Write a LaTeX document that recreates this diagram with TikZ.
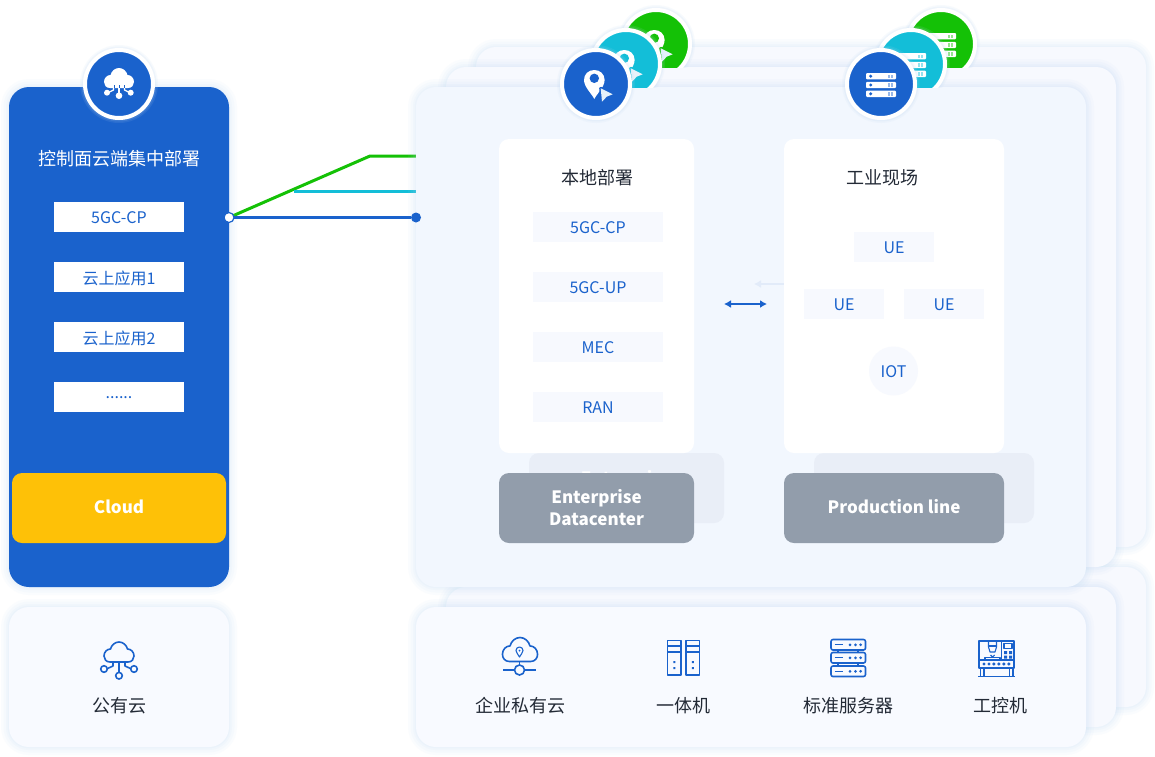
\documentclass[tikz,border=0pt]{standalone}
\usepackage{fontspec}
\setmainfont{Noto Sans CJK SC}
\usetikzlibrary{arrows.meta}
\definecolor{cblue}{HTML}{1A62CC}
\definecolor{cgreen}{HTML}{14C106}
\definecolor{ccyan}{HTML}{13BED8}
\definecolor{cglow}{HTML}{B9D6F2}
\definecolor{pmain}{HTML}{F2F7FE}
\definecolor{pback}{HTML}{F7F9FE}
\definecolor{pbot}{HTML}{F8FAFF}
\definecolor{cgrey}{HTML}{929DAB}
\definecolor{cghost}{HTML}{E9EEF7}
\definecolor{citem}{HTML}{F7F9FE}
\definecolor{cyellow}{HTML}{FEC107}
\definecolor{cdark}{HTML}{232A36}
\definecolor{cpale}{HTML}{E6F2FA}
\definecolor{cghostarrow}{HTML}{E2EBF9}
\newcommand\sixteen{\fontsize{16}{20}\selectfont}
\newcommand\eighteen{\fontsize{18}{22}\selectfont}
\newcommand\tagfont{\fontsize{17}{22}\selectfont\bfseries}
\newcommand\dn[2]{\raisebox{#1}[\height][\depth]{#2}}
\tikzset{
  x=1pt,y=-1pt,
  base/.style={inner sep=0pt,outer sep=0pt,line width=0pt,align=center},
  glowy/.style={
    preaction={draw=cglow,draw opacity=.06,line width=16pt},
    preaction={draw=cglow,draw opacity=.07,line width=11pt},
    preaction={draw=cglow,draw opacity=.08,line width=6pt},
    preaction={draw=cglow,draw opacity=.08,line width=2.5pt}},
  panel/.style={base,rectangle,rounded corners=20pt,glowy,fill=#1},
  card/.style={base,rectangle,rounded corners=10pt,fill=white},
  itemwhite/.style={base,rectangle,fill=white,text=cblue,font=\sixteen},
  itempale/.style={base,rectangle,fill=citem,text=cblue,font=\sixteen},
  tag/.style={base,rectangle,rounded corners=10pt,fill=#1,text=white,font=\tagfont},
  badge/.style={base,circle,minimum size=68pt,fill=#1,draw=white,line width=4pt,
    preaction={draw=cglow,draw opacity=.10,line width=10pt},
    preaction={draw=cglow,draw opacity=.14,line width=7pt}},
  title/.style={base,font=\eighteen},
  caption/.style={base,font=\eighteen,text=cdark},
  wire/.style={line width=3pt,draw=#1},
  twoway/.style={line width=2.4pt,draw=#1,{Latex[length=7pt,width=8pt]}-{Latex[length=7pt,width=8pt]}},
  ico/.style={draw=cblue,line width=1.6pt,line join=round},
  icothin/.style={draw=cblue,line width=1.1pt,line join=round},
}
\newcommand\bx[7][]{%
  \pgfmathsetmacro\bxw{#5-#3}\pgfmathsetmacro\bxh{#6-#4}%
  \pgfmathsetmacro\bxx{(#3+#5)/2}\pgfmathsetmacro\bxy{(#4+#6)/2}%
  \node[#1,minimum width=\bxw pt,minimum height=\bxh pt] (#2) at (\bxx,\bxy) {#7};}
\newcommand\cloudpath{(-9,10) .. controls (-13,10) and (-15,7) .. (-15,4) .. controls (-15,0) and (-12,-3) .. (-8.5,-3) .. controls (-7.5,-7) and (-4,-10) .. (0,-10) .. controls (4,-10) and (7.5,-7) .. (8.5,-3) .. controls (12,-3) and (15,0) .. (15,4) .. controls (15,7) and (13,10) .. (9,10) -- cycle}
\newcommand\pinicon[3]{%
  \begin{scope}[shift={(#1,#2)}]
    \fill[white] (-1.7,15) .. controls (-4,10) and (-12,3) .. (-12,-4) .. controls (-12,-10) and (-7.5,-14) .. (-1.7,-14) .. controls (4,-14) and (8.6,-10) .. (8.6,-4) .. controls (8.6,3) and (0.6,10) .. (-1.7,15) -- cycle;
    \fill[#3] (-1.7,-5.7) circle[radius=4.7pt];
    \draw[#3,line width=3pt,line join=round] (4.7,4.3) -- (16.7,10.3) -- (10.7,12.7) -- (6,17.7) -- cycle;
    \fill[cpale] (4.7,4.3) -- (16.7,10.3) -- (10.7,12.7) -- (6,17.7) -- cycle;
  \end{scope}}
\newcommand\srvicon[3]{%
  \begin{scope}[shift={(#1,#2)}]
    \foreach \yy in {-11,-2.2,6.6}{
      \fill[white,rounded corners=1pt] (-15,\yy) rectangle (15,\yy+6.4);
      \fill[#3] (-10.3,\yy+3.2) circle[radius=1.7pt];
      \fill[#3!45!white] (7,\yy+1.5) rectangle (9.2,\yy+4.9);
      \fill[#3!45!white] (10.2,\yy+1.5) rectangle (12.4,\yy+4.9);
    }
  \end{scope}}
\begin{document}
\begin{tikzpicture}
\useasboundingbox (0,0) rectangle (1155,756);
\fill[white] (0,0) rectangle (1155,756);
\coordinate (srcpt) at (229,217.5);
\coordinate (bendgreen) at (370,156);
\coordinate (endgreen) at (418,156);
\coordinate (startcyan) at (294,191);
\coordinate (endcyan) at (418,191);
% bottom stack
\bx[panel=pback]{botback}{476}{567}{1146}{707}{}
\bx[panel=pback]{botmid}{446}{587}{1116}{727}{}
% top stack + badges
\bx[panel=pback]{topback}{476}{47}{1146}{547}{}
\bx[panel=pback]{topmid}{446}{67}{1116}{567}{}
\begin{scope}
  \clip (0,0) rectangle (1155,67);
  \node[badge=cgreen] (bgreenA) at (656,44) {};
  \pinicon{656}{44}{cgreen}
  \node[badge=cgreen] (bgreenB) at (941,44) {};
  \srvicon{941}{44}{cgreen}
\end{scope}
\draw[wire=cgreen] (srcpt) -- (bendgreen) -- (endgreen);
\draw[wire=ccyan] (startcyan) -- (endcyan);
\bx[panel=pmain]{main}{416}{87}{1086}{587}{}
\begin{scope}
  \clip (0,0) rectangle (1155,87);
  \node[badge=ccyan] (bcyanA) at (626,64) {};
  \pinicon{626}{64}{ccyan}
  \node[badge=ccyan] (bcyanB) at (911,64) {};
  \srvicon{911}{64}{ccyan}
\end{scope}
\bx[panel=pbot]{bottom}{416}{607}{1086}{747}{}
\bx[panel=pbot]{pubcloud}{9}{607}{229}{747}{}
\bx[panel=cblue]{cloudpanel}{9}{87}{229}{587}{}
\node[badge=cblue] (bcloud) at (119,84) {};
\node[badge=cblue] (blocal) at (596,84) {};
\pinicon{596}{84}{cblue}
\node[badge=cblue] (bsite) at (881,84) {};
\srvicon{881}{84}{cblue}
% top-left solid cloud icon
\begin{scope}[shift={(119,78)}]
  \fill[white] \cloudpath;
\end{scope}
\draw[cblue,line width=1pt] (114,85) -- (114,88) (119,85) -- (119,88) (124,85) -- (124,88);
\draw[white,line width=1.2pt] (119,88) -- (119,94);
\draw[white,line width=1.2pt] (113.5,88) -- (113.5,90) -- (108,92.7);
\draw[white,line width=1.2pt] (124.5,88) -- (124.5,90) -- (130,92.7);
\fill[white] (107,92.7) circle[radius=3pt] (119,95.7) circle[radius=3.3pt] (130.7,92.7) circle[radius=3pt];
% left panel contents
\node[title,text=white] (lefttitle) at (119,159) {控制面云端集中部署};
\bx[itemwhite]{lcp}{54}{202}{184}{232}{\dn{-1pt}{5GC-CP}}
\bx[itemwhite]{lapp1}{54}{262}{184}{292}{\dn{-1pt}{云上应用1}}
\bx[itemwhite]{lapp2}{54}{322}{184}{352}{\dn{-1pt}{云上应用2}}
\bx[itemwhite]{lmore}{54}{382}{184}{412}{\dn{-1pt}{......}}
\bx[tag=cyellow]{lcloud}{12}{473}{226}{543}{\dn{1pt}{Cloud}}
% blue wire and its dots
\node[base,circle,minimum size=10pt,fill=cblue] (dstdot) at (416,217.5) {};
\draw[wire=cblue] (srcpt) -- (dstdot);
\node[base,circle,minimum size=10pt,fill=white,draw=cblue,line width=1.2pt] (srcdot) at (srcpt) {};
% ghosts of the layers behind
\bx[base,rectangle,rounded corners=10pt,fill=cghost]{ghostA}{529}{453}{724}{523}{}
\node[base,text=white,font=\tagfont] (ghosttext) at (626,479.5) {Enterprise};
\bx[base,rectangle,rounded corners=10pt,fill=cghost]{ghostB}{814}{453}{1034}{523}{}
\coordinate (ghl) at (754,284);
\coordinate (ghr) at (797,284);
\draw[twoway=cghostarrow] (ghl) -- (ghr);
% cards
\bx[card]{cardlocal}{499}{139}{694}{453}{}
\bx[card]{cardsite}{784}{139}{1004}{453}{}
\node[title,text=cdark] (tlocal) at (597,178) {本地部署};
\node[title,text=cdark] (tsite) at (882,178) {工业现场};
\bx[itempale]{rcp}{533}{212}{663}{242}{\dn{-1pt}{5GC-CP}}
\bx[itempale]{rup}{533}{272}{663}{302}{\dn{-1pt}{5GC-UP}}
\bx[itempale]{rmec}{533}{332}{663}{362}{\dn{-1pt}{MEC}}
\bx[itempale]{rran}{533}{392}{663}{422}{\dn{-1pt}{RAN}}
\bx[itempale]{ue1}{854}{232}{934}{262}{\dn{-1pt}{UE}}
\bx[itempale]{ue2}{804}{289}{884}{319}{\dn{-1pt}{UE}}
\bx[itempale]{ue3}{904}{289}{984}{319}{\dn{-1pt}{UE}}
\node[base,circle,minimum size=49pt,fill=citem,text=cblue,font=\sixteen] (iot) at (893.5,371) {\dn{-1pt}{IOT}};
\bx[tag=cgrey]{tagent}{499}{473}{694}{543}{\dn{-2pt}{\begin{tabular}{@{}c@{}}Enterprise\\[0pt]Datacenter\end{tabular}}}
\bx[tag=cgrey]{tagprod}{784}{473}{1004}{543}{\dn{1pt}{Production line}}
\coordinate (arl) at (724,304);
\coordinate (arr) at (767,304);
\draw[twoway=cblue] (arl) -- (arr);
% bottom labels
\node[caption] (cpub) at (119,706) {公有云};
\node[caption] (cpriv) at (520,706) {企业私有云};
\node[caption] (caio) at (683,706) {一体机};
\node[caption] (cstd) at (848,706) {标准服务器};
\node[caption] (cipc) at (1000,706) {工控机};
% public cloud icon
\begin{scope}[shift={(119,652)}]
  \draw[ico] \cloudpath;
\end{scope}
\draw[ico] (119,662) -- (119,672);
\draw[ico] (113,662) -- (113,666) -- (107.5,668.5);
\draw[ico] (125,662) -- (125,666) -- (130.5,668.5);
\draw[ico] (104,669) circle[radius=3.3pt] (119,675.7) circle[radius=3.3pt] (134,669) circle[radius=3.3pt];
% private cloud icon
\begin{scope}[shift={(520,649.5)},xscale=1.17,yscale=1.2]
  \draw[ico] \cloudpath;
\end{scope}
\draw[icothin] (519.5,657) .. controls (518,654) and (516,652.5) .. (516,650.5) .. controls (516,648.5) and (517.5,647) .. (519.5,647) .. controls (521.5,647) and (523,648.5) .. (523,650.5) .. controls (523,652.5) and (521,654) .. (519.5,657) -- cycle;
\fill[cblue] (519.5,650.5) circle[radius=1pt];
\draw[ico] (519.5,662) -- (519.5,665);
\draw[ico] (503,669.7) -- (514.5,669.7) (524.5,669.7) -- (536,669.7);
\draw[ico] (519.5,670) circle[radius=5pt];
% all-in-one icon
\foreach \xa/\xb in {667.5/681,686/699.5}{
  \draw[ico] (\xa,640.5) rectangle (\xb,675);
  \draw[ico] (\xa,646) -- (\xb,646) (\xa,652) -- (\xb,652);
  \pgfmathsetmacro\xc{(\xa+\xb)/2}
  \fill[cblue] (\xc-1,661) rectangle (\xc+1,663) (\xc-1,667) rectangle (\xc+1,669);
}
% server icon
\foreach \ya/\yb in {639.5/650,652.5/663,666/676.5}{
  \draw[ico,rounded corners=2pt] (831,\ya) rectangle (865.5,\yb);
  \pgfmathsetmacro\ym{(\ya+\yb)/2}
  \draw[icothin] (834.5,\ym) -- (843,\ym);
  \fill[cblue] (850,\ym) circle[radius=1.5pt] (855.5,\ym) circle[radius=1.5pt] (860.7,\ym) circle[radius=1.5pt];
}
\draw[icothin] (838,650) -- (838,652.5) (858,650) -- (858,652.5) (838,663) -- (838,666) (858,663) -- (858,666);
% industrial PC icon
\draw[ico] (979,641) rectangle (1014,660);
\draw[ico] (979,660) rectangle (1014,668);
\foreach \xd in {984,989,993.8,998.8,1003.8,1008.8}{\fill[cblue] (\xd,664) circle[radius=1.7pt];}
\draw[ico] (978,676.5) -- (1015,676.5);
\draw[ico] (980.5,668) rectangle (984,676.5) (1009.5,668) rectangle (1013,676.5);
\draw[icothin] (1001.7,641) -- (1001.7,660);
\draw[icothin] (1004,643.5) rectangle (1012,648.5);
\fill[cblue] (1004,651) rectangle (1007,654) (1009,651) rectangle (1012,654) (1004,655.5) rectangle (1007,658.5) (1009,655.5) rectangle (1012,658.5);
\draw[icothin] (988.5,641) -- (988.5,647) -- (990,652) -- (995,652) -- (996.5,647) -- (996.5,641);
\draw[icothin] (988.5,646) -- (996.5,646);
\draw[icothin] (990.5,655) -- (992.5,657) -- (994.5,655);
\draw[icothin] (985,660) -- (985,657.5) -- (1000,657.5) -- (1000,660);
\end{tikzpicture}
\end{document}
